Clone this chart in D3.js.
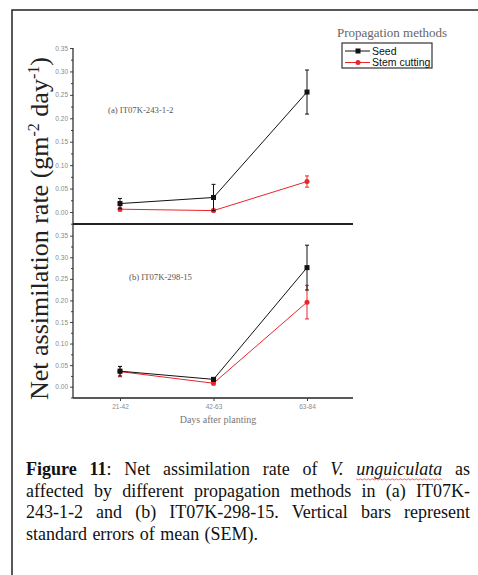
<!DOCTYPE html>
<html>
<head>
<meta charset="utf-8">
<script src="https://cdn.jsdelivr.net/npm/d3@7/dist/d3.min.js"></script>
<style>
  html, body { margin: 0; padding: 0; background: #fff; }
  svg { display: block; }
</style>
</head>
<body>
<svg id="fig" width="478" height="575"></svg>
<script>
// Sampling windows (days after planting)
const categories = ["21-42", "42-63", "63-84"];

// (a) IT07K-243-1-2
const seedA = [0.018, 0.031, 0.256];
const seedAErr = [0.011, 0.028, 0.047];
const stemA = [0.006, 0.003, 0.065];
const stemAErr = [0.004, 0.003, 0.012];

// (b) IT07K-298-15
const seedB = [0.036, 0.017, 0.276];
const seedBErr = [0.011, 0.004, 0.052];
const stemB = [0.035, 0.008, 0.196];
const stemBErr = [0.012, 0.004, 0.039];

const yMajorTicks = [0.00, 0.05, 0.10, 0.15, 0.20, 0.25, 0.30, 0.35];
const yMinorTicks = [-0.025, 0.025, 0.075, 0.125, 0.175, 0.225, 0.275, 0.325];

const seriesNames = ["Seed", "Stem cutting"];
const seriesColors = ["#111111", "#e8262a"];

const svg = d3.select("#fig");
const serif = "'Liberation Serif', 'Times New Roman', serif";
const sans = "'Liberation Sans', Arial, sans-serif";

// page frame
svg.append("path")
  .attr("d", "M12,576 L12,10 L479,10")
  .attr("fill", "none").attr("stroke", "#222").attr("stroke-width", 1.5);

const axisX0 = 73, axisX1 = 353;
const x = d3.scalePoint().domain(categories).range([120, 307]);

const panels = [
  { y: d3.scaleLinear().domain([0, 0.35]).range([212, 48]), top: 48, bottom: 224,
    seed: seedA, seedErr: seedAErr, stem: stemA, stemErr: stemAErr,
    label: "(a) IT07K-243-1-2", labelX: 108, labelY: 113, baseW: 2 },
  { y: d3.scaleLinear().domain([0, 0.35]).range([386.7, 235.7]), top: 224, bottom: 398,
    seed: seedB, seedErr: seedBErr, stem: stemB, stemErr: stemBErr,
    label: "(b) IT07K-298-15", labelX: 129, labelY: 280, baseW: 1.5 }
];

panels.forEach(p => {
  const g = svg.append("g");
  // major ticks with labels
  const maj = g.append("g").attr("transform", `translate(${axisX0},0)`)
    .call(d3.axisLeft(p.y).tickValues(yMajorTicks).tickFormat(d3.format(".2f")).tickSize(3).tickPadding(2));
  maj.select(".domain").remove();
  maj.selectAll("line").attr("stroke", "#444");
  maj.selectAll("text").attr("font-family", sans).attr("font-size", 6.5).attr("fill", "#8a8a8a");
  // minor ticks
  const mn = g.append("g").attr("transform", `translate(${axisX0},0)`)
    .call(d3.axisLeft(p.y).tickValues(yMinorTicks).tickFormat("").tickSize(2));
  mn.select(".domain").remove();
  mn.selectAll("line").attr("stroke", "#444");

  // y axis line
  g.append("line").attr("x1", axisX0).attr("x2", axisX0).attr("y1", p.top).attr("y2", p.bottom)
    .attr("stroke", "#222").attr("stroke-width", 1.2);
  // baseline
  g.append("line").attr("x1", axisX0).attr("x2", axisX1).attr("y1", p.bottom).attr("y2", p.bottom)
    .attr("stroke", "#222").attr("stroke-width", p.baseW);

  // panel label
  g.append("text").attr("x", p.labelX).attr("y", p.labelY)
    .attr("font-family", serif).attr("font-size", 8.7).attr("fill", "#555").text(p.label);

  const series = [
    { v: p.seed, e: p.seedErr, c: seriesColors[0], shape: "square" },
    { v: p.stem, e: p.stemErr, c: seriesColors[1], shape: "circle" }
  ];
  // draw red first so black sits on top where they overlap
  [series[1], series[0]].forEach(s => {
    const pts = categories.map((c, i) => ({ c, v: s.v[i], e: s.e[i] }));
    g.append("path").datum(pts)
      .attr("d", d3.line().x(d => x(d.c)).y(d => p.y(d.v)))
      .attr("fill", "none").attr("stroke", s.c).attr("stroke-width", 1);
    const eb = g.append("g").selectAll("g").data(pts).join("g");
    eb.append("line")
      .attr("x1", d => x(d.c)).attr("x2", d => x(d.c))
      .attr("y1", d => p.y(d.v + d.e)).attr("y2", d => p.y(d.v - d.e))
      .attr("stroke", s.c).attr("stroke-width", 1);
    eb.append("line")
      .attr("x1", d => x(d.c) - 2).attr("x2", d => x(d.c) + 2)
      .attr("y1", d => p.y(d.v + d.e)).attr("y2", d => p.y(d.v + d.e))
      .attr("stroke", s.c).attr("stroke-width", 1);
    eb.append("line")
      .attr("x1", d => x(d.c) - 2).attr("x2", d => x(d.c) + 2)
      .attr("y1", d => p.y(d.v - d.e)).attr("y2", d => p.y(d.v - d.e))
      .attr("stroke", s.c).attr("stroke-width", 1);
    if (s.shape === "square") {
      g.append("g").selectAll("rect").data(pts).join("rect")
        .attr("x", d => x(d.c) - 2.5).attr("y", d => p.y(d.v) - 2.5)
        .attr("width", 5).attr("height", 5).attr("fill", s.c);
    } else {
      g.append("g").selectAll("circle").data(pts).join("circle")
        .attr("cx", d => x(d.c)).attr("cy", d => p.y(d.v)).attr("r", 2.5).attr("fill", s.c);
    }
  });
});

// x axis ticks and labels (bottom panel)
const xa = svg.append("g").attr("transform", "translate(0,398)")
  .call(d3.axisBottom(x).tickSize(3).tickPadding(3));
xa.select(".domain").remove();
xa.selectAll("line").attr("stroke", "#444");
xa.selectAll("text").attr("font-family", sans).attr("font-size", 6.5).attr("fill", "#8a8a8a");

svg.append("text").attr("x", 218).attr("y", 423).attr("text-anchor", "middle")
  .attr("font-family", serif).attr("font-size", 10).attr("fill", "#777").text("Days after planting");

// y axis title
const yt = svg.append("text")
  .attr("transform", "translate(48,400) rotate(-90)")
  .attr("font-family", serif).attr("font-size", 26).attr("fill", "#222");
yt.append("tspan").text("Net assimilation rate  (gm");
yt.append("tspan").attr("font-size", 16).attr("dy", -9).text("-2");
yt.append("tspan").attr("dy", 9).text(" day");
yt.append("tspan").attr("font-size", 16).attr("dy", -9).text("-1");
yt.append("tspan").attr("dy", 9).text(")");

// legend
svg.append("text").attr("x", 337).attr("y", 37)
  .attr("font-family", serif).attr("font-size", 13).attr("fill", "#666").text("Propagation methods");
svg.append("rect").attr("x", 342).attr("y", 43).attr("width", 90).attr("height", 25)
  .attr("fill", "#fff").attr("stroke", "#333").attr("stroke-width", 1.2);
seriesNames.forEach((name, i) => {
  const ly = 51 + i * 11.5;
  svg.append("line").attr("x1", 345).attr("x2", 370).attr("y1", ly).attr("y2", ly)
    .attr("stroke", seriesColors[i]).attr("stroke-width", 1);
  if (i === 0) {
    svg.append("rect").attr("x", 355.5).attr("y", ly - 2.5).attr("width", 5).attr("height", 5).attr("fill", seriesColors[i]);
  } else {
    svg.append("circle").attr("cx", 358).attr("cy", ly).attr("r", 2.5).attr("fill", seriesColors[i]);
  }
  svg.append("text").attr("x", 372).attr("y", ly + 3.7)
    .attr("font-family", sans).attr("font-size", 10.5).attr("fill", "#111").text(name);
});

// caption, justified line by line
const captionLines = [
  { justify: true, words: [
      [{ t: "Figure", b: 1 }], [{ t: "11", b: 1 }, { t: ":" }], [{ t: "Net" }], [{ t: "assimilation" }],
      [{ t: "rate" }], [{ t: "of" }], [{ t: "V.", i: 1 }], [{ t: "unguiculata", i: 1, wavy: 1 }], [{ t: "as" }]] },
  { justify: true, words: [
      [{ t: "affected" }], [{ t: "by" }], [{ t: "different" }], [{ t: "propagation" }], [{ t: "methods" }],
      [{ t: "in" }], [{ t: "(a)" }], [{ t: "IT07K-" }]] },
  { justify: true, words: [
      [{ t: "243-1-2" }], [{ t: "and" }], [{ t: "(b)" }], [{ t: "IT07K-298-15." }], [{ t: "Vertical" }],
      [{ t: "bars" }], [{ t: "represent" }]] },
  { justify: false, words: [
      [{ t: "standard" }], [{ t: "errors" }], [{ t: "of" }], [{ t: "mean" }], [{ t: "(SEM)." }]] }
];
const capLeft = 26, capRight = 470, capTop = 475, capStep = 21.7, capSize = 18;
captionLines.forEach((line, li) => {
  const yb = capTop + li * capStep;
  const nodes = line.words.map(parts => {
    const t = svg.append("text").attr("y", yb).attr("font-family", serif)
      .attr("font-size", capSize).attr("fill", "#111");
    parts.forEach(pt => {
      t.append("tspan").attr("font-weight", pt.b ? "bold" : null)
        .attr("font-style", pt.i ? "italic" : null).text(pt.t);
    });
    return { t, w: t.node().getComputedTextLength(), wavy: parts.some(pt => pt.wavy) };
  });
  const total = d3.sum(nodes, n => n.w);
  const gap = line.justify ? (capRight - capLeft - total) / (nodes.length - 1) : capSize * 0.3;
  let cx = capLeft;
  nodes.forEach(n => {
    n.t.attr("x", cx);
    if (n.wavy) {
      const pts = [];
      for (let k = 0; k <= Math.floor(n.w / 2); k++) pts.push([cx + k * 2, yb + 4 + (k % 2 ? 1 : -0.2)]);
      svg.append("path").attr("d", d3.line()(pts)).attr("fill", "none")
        .attr("stroke", "#e84a4a").attr("stroke-width", 0.8);
    }
    cx += n.w + gap;
  });
});
</script>
</body>
</html>
